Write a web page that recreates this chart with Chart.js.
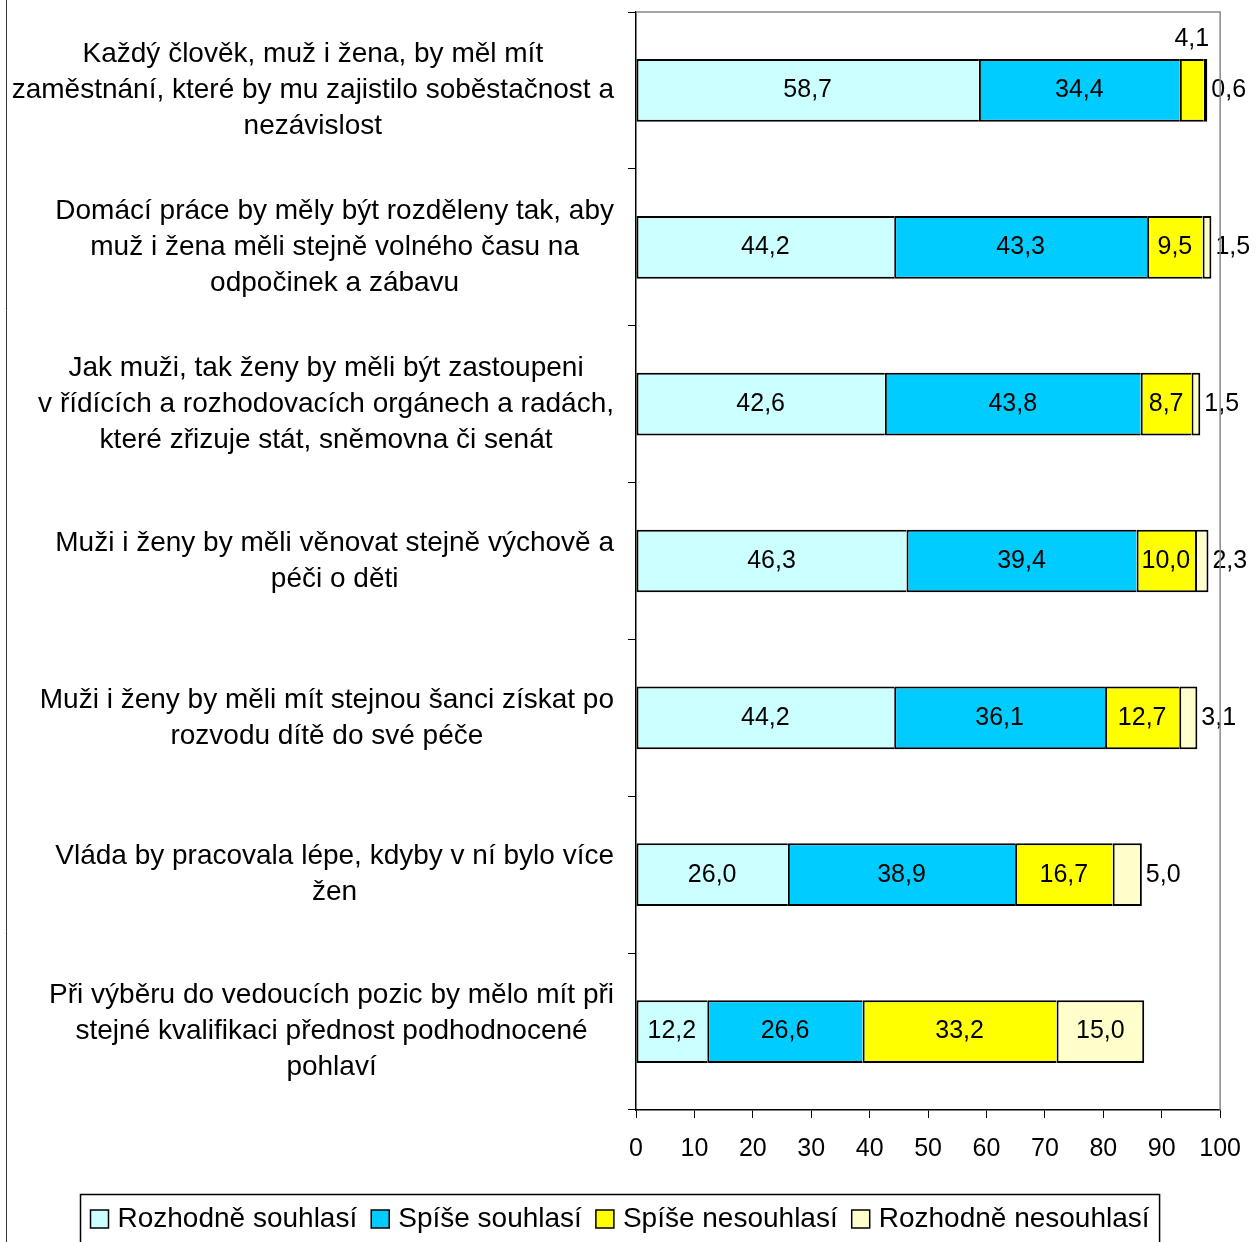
<!DOCTYPE html>
<html lang="cs">
<head>
<meta charset="utf-8">
<title>Postoje k rovnosti mužů a žen</title>
<script src="https://cdn.jsdelivr.net/npm/chart.js@4.4.1/dist/chart.umd.min.js"></script>
<style>
  html, body { margin: 0; padding: 0; background: #fff; }
  #wrap { width: 1257px; height: 1242px; position: relative; }
</style>
</head>
<body>
<div id="wrap"><canvas id="chart"></canvas></div>
<script>
// Data (percent)
const statements = [
    ['Každý člověk, muž i žena, by měl mít', 'zaměstnání, které by mu zajistilo soběstačnost a', 'nezávislost'],
    ['Domácí práce by měly být rozděleny tak, aby', 'muž i žena měli stejně volného času na', 'odpočinek a zábavu'],
    ['Jak muži, tak ženy by měli být zastoupeni', 'v řídících a rozhodovacích orgánech a radách,', 'které zřizuje stát, sněmovna či senát'],
    ['Muži i ženy by měli věnovat stejně výchově a', 'péči o děti'],
    ['Muži i ženy by měli mít stejnou šanci získat po', 'rozvodu dítě do své péče'],
    ['Vláda by pracovala lépe, kdyby v ní bylo více', 'žen'],
    ['Při výběru do vedoucích pozic by mělo mít při', 'stejné kvalifikaci přednost podhodnocené', 'pohlaví']
];
const seriesNames = ['Rozhodně souhlasí', 'Spíše souhlasí', 'Spíše nesouhlasí', 'Rozhodně nesouhlasí'];
const rozhodneSouhlasi   = [58.7, 44.2, 42.6, 46.3, 44.2, 26.0, 12.2];
const spiseSouhlasi      = [34.4, 43.3, 43.8, 39.4, 36.1, 38.9, 26.6];
const spiseNesouhlasi    = [4.1, 9.5, 8.7, 10.0, 12.7, 16.7, 33.2];
const rozhodneNesouhlasi = [0.6, 1.5, 1.5, 2.3, 3.1, 5.0, 15.0];
const xMin = 0, xMax = 100, xStep = 10;

const seriesColors = ['#CCFFFF', '#00CCFF', '#FFFF00', '#FFFFCC'];
const FONT = '"Liberation Sans", Arial, Helvetica, sans-serif';

// Category labels: each block centred on its own widest line, right-aligned to the axis
const categoryLabels = {
    id: 'categoryLabels',
    afterDraw(chart) {
        const ctx = chart.ctx;
        const yScale = chart.scales.y;
        const right = chart.chartArea.left - 22;
        const lineH = 36;
        ctx.save();
        ctx.font = '28px ' + FONT;
        ctx.fillStyle = '#000';
        ctx.textAlign = 'center';
        ctx.textBaseline = 'middle';
        statements.forEach((lines, i) => {
            const cy = yScale.getPixelForValue(i);
            const widest = Math.max(...lines.map(l => ctx.measureText(l).width));
            const cx = right - widest / 2;
            const y0 = cy - (lines.length - 1) * lineH / 2;
            lines.forEach((l, k) => ctx.fillText(l, cx, y0 + k * lineH));
        });
        ctx.restore();
    }
};

// Value labels on the bar segments
const valueLabels = {
    id: 'valueLabels',
    afterDatasetsDraw(chart) {
        const ctx = chart.ctx;
        const last = chart.data.datasets.length - 1;
        ctx.save();
        ctx.font = '25px ' + FONT;
        ctx.fillStyle = '#000';
        ctx.textBaseline = 'middle';
        chart.data.datasets.forEach((ds, di) => {
            const meta = chart.getDatasetMeta(di);
            meta.data.forEach((bar, i) => {
                const v = ds.data[i];
                const txt = v.toFixed(1).replace('.', ',');
                const p = bar.getProps(['x', 'y', 'base', 'height'], true);
                const w = p.x - p.base;
                const tw = ctx.measureText(txt).width;
                if (tw + 6 <= w) {
                    ctx.textAlign = 'center';
                    ctx.fillText(txt, (p.x + p.base) / 2, p.y);
                } else if (di === last) {
                    ctx.textAlign = 'left';
                    ctx.fillText(txt, p.x + 4, p.y);
                } else {
                    ctx.textAlign = 'center';
                    ctx.fillText(txt, (p.x + p.base) / 2, p.y - p.height / 2 - 20);
                }
            });
        });
        ctx.restore();
    }
};

// Frame bits, grey plot border and the boxed legend at the bottom
const frameAndLegend = {
    id: 'frameAndLegend',
    afterDraw(chart) {
        const ctx = chart.ctx;
        const a = chart.chartArea;
        ctx.save();
        // grey top/right border of plot area
        ctx.strokeStyle = '#888';
        ctx.lineWidth = 1.5;
        ctx.beginPath();
        ctx.moveTo(a.left, a.top);
        ctx.lineTo(a.right, a.top);
        ctx.lineTo(a.right, a.bottom);
        ctx.stroke();
        // outer frame line on the left
        ctx.strokeStyle = '#333';
        ctx.lineWidth = 1;
        ctx.beginPath();
        ctx.moveTo(6.5, 0);
        ctx.lineTo(6.5, chart.height);
        ctx.stroke();

        // legend
        ctx.font = '28px ' + FONT;
        ctx.textBaseline = 'middle';
        ctx.textAlign = 'left';
        const box = 18, gapText = 9, gapItem = 14, pad = 10;
        const widths = seriesNames.map(n => ctx.measureText(n).width);
        const total = widths.reduce((s, w) => s + w, 0) + seriesNames.length * (box + gapText) + (seriesNames.length - 1) * gapItem;
        const boxW = total + 2 * pad;
        const bx = 80.5;
        const by = 1194.5;
        ctx.strokeStyle = '#000';
        ctx.lineWidth = 1.5;
        ctx.strokeRect(bx, by, boxW, 80);
        let x = bx + pad;
        const cy = 1219;
        seriesNames.forEach((n, i) => {
            ctx.fillStyle = seriesColors[i];
            ctx.fillRect(x, cy - box / 2, box, box);
            ctx.strokeStyle = '#000';
            ctx.lineWidth = 1.5;
            ctx.strokeRect(x, cy - box / 2, box, box);
            ctx.fillStyle = '#000';
            ctx.fillText(n, x + box + gapText, cy);
            x += box + gapText + widths[i] + gapItem;
        });
        ctx.restore();
    }
};

const seriesValues = [rozhodneSouhlasi, spiseSouhlasi, spiseNesouhlasi, rozhodneNesouhlasi];
const lastSeries = seriesNames.length - 1;

new Chart(document.getElementById('chart').getContext('2d'), {
    type: 'bar',
    data: {
        labels: statements.map(s => s.join(' ')),
        datasets: seriesNames.map((name, i) => ({
            label: name,
            data: seriesValues[i],
            backgroundColor: seriesColors[i],
            borderColor: '#000',
            // one 2px divider between neighbouring segments, closed at the end of the bar
            borderWidth: { top: 2, bottom: 2, left: 2, right: i === lastSeries ? 2 : 0 },
            borderSkipped: false,
            barPercentage: 0.4,
            categoryPercentage: 1
        }))
    },
    options: {
        indexAxis: 'y',
        responsive: true,
        maintainAspectRatio: false,
        animation: false,
        layout: { padding: { top: 12, right: 36, bottom: 0, left: 0 } },
        plugins: {
            legend: { display: false },
            tooltip: { enabled: false }
        },
        scales: {
            x: {
                stacked: true,
                min: xMin,
                max: xMax,
                ticks: {
                    stepSize: xStep,
                    color: '#000',
                    padding: 16,
                    font: { size: 25, family: FONT }
                },
                grid: { drawOnChartArea: false, color: '#000', tickLength: 8, lineWidth: 1 },
                border: { color: '#000', width: 1.5 },
                afterFit(scale) { scale.height = 132; }
            },
            y: {
                stacked: true,
                ticks: { display: false },
                grid: { drawOnChartArea: false, color: '#000', tickLength: 8, lineWidth: 1, offset: true },
                border: { color: '#000', width: 1.5 },
                afterFit(scale) { scale.width = 636; }
            }
        }
    },
    plugins: [valueLabels, categoryLabels, frameAndLegend]
});
</script>
</body>
</html>
